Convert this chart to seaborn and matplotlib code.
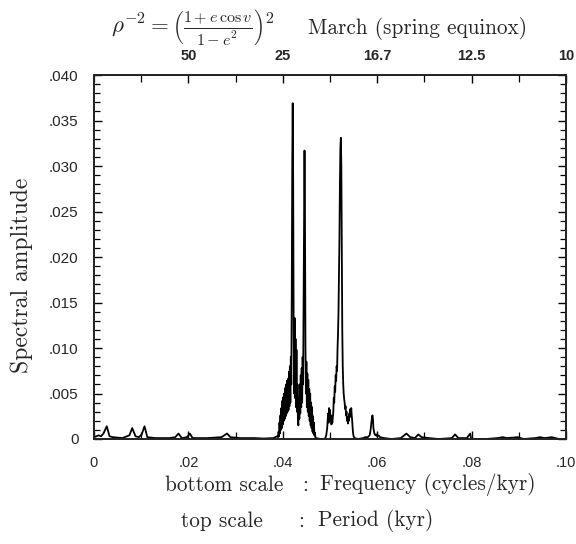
import matplotlib
matplotlib.use("Agg")
import matplotlib.pyplot as plt
import seaborn as sns
import pandas as pd
from matplotlib.ticker import MultipleLocator

# ---------------- data ----------------
freq = [
    # low-frequency background
    0.0000, 0.0010, 0.0015, 0.0020, 0.0027, 0.0033, 0.0040, 0.0060, 0.0075, 0.0081,
    0.0088, 0.0095, 0.0101, 0.0107, 0.0113, 0.0130, 0.0160, 0.0172, 0.0179, 0.0186,
    0.0197, 0.0203, 0.0209, 0.0240, 0.0270, 0.0282, 0.0289, 0.0310, 0.0340, 0.0360,
    0.0380, 0.0388,
    # first precession cluster
    0.0390, 0.0391, 0.0392, 0.0393, 0.0394, 0.0395, 0.0396, 0.0397, 0.0398, 0.0399,
    0.0400, 0.0401, 0.0402, 0.0403, 0.0404, 0.0405, 0.0406, 0.0407, 0.0408, 0.0409,
    0.0410, 0.0411, 0.0412, 0.0413, 0.0414, 0.0415, 0.0416, 0.0417, 0.0418, 0.0419,
    0.0420, 0.0421, 0.0422, 0.0423, 0.0424, 0.0425, 0.0426, 0.0427, 0.0428, 0.0429,
    0.0430, 0.0431, 0.0432, 0.0433, 0.0434, 0.0435, 0.0436, 0.0437, 0.0438, 0.0439,
    0.0440, 0.0441, 0.0442, 0.0443, 0.0444, 0.0445, 0.0446, 0.0447, 0.0448, 0.0449,
    0.0450, 0.0451, 0.0452, 0.0453, 0.0454, 0.0455, 0.0456, 0.0457, 0.0458, 0.0459,
    0.0460, 0.0461, 0.0462, 0.0463, 0.0464, 0.0465, 0.0466, 0.0467, 0.0468, 0.0469,
    0.0470, 0.0480, 0.0488,
    # second cluster
    0.0490, 0.0492, 0.0494, 0.0496, 0.0497, 0.0498, 0.0499, 0.0500, 0.0501, 0.0502,
    0.0503, 0.0504, 0.0505, 0.0506, 0.0507, 0.0508, 0.0509, 0.0510, 0.0511, 0.0512,
    0.0513, 0.0514, 0.0515, 0.0516, 0.0517, 0.0518, 0.0519, 0.0520, 0.0521, 0.0522,
    0.0523, 0.0524, 0.0525, 0.0526, 0.0527, 0.0528, 0.0529, 0.0530, 0.0531, 0.0532,
    0.0533, 0.0534, 0.0535, 0.0536, 0.0537, 0.0538, 0.0539, 0.0540, 0.0541, 0.0542,
    0.0543, 0.0544, 0.0545, 0.0546, 0.0547, 0.0548, 0.0549, 0.0550, 0.0552,
    # third small cluster and high-frequency background
    0.0560, 0.0570, 0.0575, 0.0580, 0.0584, 0.0586, 0.0588, 0.0589, 0.0590, 0.0591,
    0.0592, 0.0594, 0.0596, 0.0598, 0.0600, 0.0603, 0.0606, 0.0615, 0.0630, 0.0650,
    0.0662, 0.0670, 0.0680, 0.0687, 0.0694, 0.0710, 0.0730, 0.0758, 0.0765, 0.0772,
    0.0790, 0.0797, 0.0799, 0.0830, 0.0855, 0.0866, 0.0875, 0.0898, 0.0910, 0.0935,
    0.0945, 0.0955, 0.0970, 0.0985, 0.1000,
]
amplitude = [
    0.0002, 0.0004, 0.0003, 0.0006, 0.0014, 0.0003, 0.0002, 0.0001, 0.0004, 0.0012,
    0.0003, 0.0002, 0.0005, 0.0014, 0.0002, 0.0001, 0.0001, 0.0002, 0.0006, 0.0001,
    0.0002, 0.0006, 0.0001, 0.0001, 0.0002, 0.0006, 0.0002, 0.0001, 0.0001, 0.00005,
    0.0001, 0.0003,
    0.0002, 0.0008, 0.0003, 0.0018, 0.0006, 0.0026, 0.0010, 0.0034, 0.0012, 0.0042,
    0.0016, 0.0046, 0.0020, 0.0050, 0.0022, 0.0056, 0.0025, 0.0060, 0.0028, 0.0064,
    0.0030, 0.0066, 0.0032, 0.0074, 0.0036, 0.0080, 0.0040, 0.0090, 0.0060, 0.0160,
    0.0300, 0.0369, 0.0280, 0.0120, 0.0050, 0.0133, 0.0045, 0.0110, 0.0035, 0.0098,
    0.0030, 0.0060, 0.0020, 0.0015, 0.0045, 0.0022, 0.0060, 0.0028, 0.0070, 0.0035,
    0.0078, 0.0040, 0.0090, 0.0060, 0.0150, 0.0260, 0.0317, 0.0240, 0.0100, 0.0050,
    0.0085, 0.0035, 0.0072, 0.0030, 0.0065, 0.0025, 0.0055, 0.0020, 0.0050, 0.0015,
    0.0040, 0.0012, 0.0035, 0.0008, 0.0025, 0.0006, 0.0018, 0.0004, 0.0007, 0.0002,
    0.0001, 0.0000, 0.0000,
    0.0001, 0.0004, 0.0012, 0.0028, 0.0018, 0.0034, 0.0022, 0.0032, 0.0020, 0.0026,
    0.0016, 0.0022, 0.0018, 0.0024, 0.0030, 0.0045, 0.0040, 0.0058, 0.0052, 0.0070,
    0.0064, 0.0080, 0.0075, 0.0100, 0.0116, 0.0140, 0.0180, 0.0220, 0.0280, 0.0320,
    0.0331, 0.0300, 0.0200, 0.0120, 0.0080, 0.0060, 0.0050, 0.0044, 0.0040, 0.0033,
    0.0036, 0.0026, 0.0030, 0.0020, 0.0024, 0.0017, 0.0022, 0.0020, 0.0028, 0.0024,
    0.0033, 0.0028, 0.0034, 0.0026, 0.0020, 0.0012, 0.0006, 0.0003, 0.0001,
    0.0000, 0.0001, 0.0002, 0.0002, 0.0004, 0.0010, 0.0020, 0.0024, 0.0026, 0.0022,
    0.0012, 0.0006, 0.0004, 0.0005, 0.0003, 0.0004, 0.0002, 0.0001, 0.0000, 0.0001,
    0.0006, 0.0002, 0.0001, 0.0005, 0.0002, 0.0001, 0.0000, 0.0001, 0.0005, 0.0001,
    0.0001, 0.0006, 0.0000, 0.0000, 0.0001, 0.0002, 0.0001, 0.0002, 0.0000, 0.0001,
    0.0002, 0.0001, 0.0002, 0.0000, 0.0000,
]

ytick_values = [0, 0.005, 0.010, 0.015, 0.020, 0.025, 0.030, 0.035, 0.040]
ytick_labels = ["0", ".005", ".010", ".015", ".020", ".025", ".030", ".035", ".040"]
xtick_values = [0, 0.02, 0.04, 0.06, 0.08, 0.10]
xtick_labels = ["0", ".02", ".04", ".06", ".08", ".10"]
top_tick_freqs = [0.02, 0.04, 0.06, 0.08, 0.10]
top_tick_labels = ["50", "25", "16.7", "12.5", "10"]

df = pd.DataFrame({"freq": freq, "amp": amplitude})

# ---------------- figure ----------------
sns.set_theme(style="ticks")
plt.rcParams["font.family"] = ["Liberation Sans", "DejaVu Sans"]
plt.rcParams["mathtext.fontset"] = "cm"

fig = plt.figure(figsize=(5.76, 5.44), dpi=100)
ax = fig.add_axes([94 / 576, 1 - 439 / 544, (566 - 94) / 576, (439 - 75) / 544])

sns.lineplot(data=df, x="freq", y="amp", ax=ax, sort=False, estimator=None,
             color="black", linewidth=1.3)

ax.set_xlim(0, 0.10)
ax.set_ylim(0, 0.040)
ax.set_xlabel("")
ax.set_ylabel("")

for sp in ax.spines.values():
    sp.set_linewidth(1.2)
    sp.set_color("black")

ax.set_yticks(ytick_values)
ax.set_yticklabels(ytick_labels, fontsize=11)
ax.yaxis.set_minor_locator(MultipleLocator(0.001))
ax.set_xticks(xtick_values)
ax.set_xticklabels(xtick_labels, fontsize=10.5)
ax.xaxis.set_minor_locator(MultipleLocator(0.01))

ax.tick_params(axis="y", which="both", direction="in", left=True, right=True,
               color="black")
ax.tick_params(axis="y", which="major", length=6, width=1.0, pad=11)
ax.tick_params(axis="y", which="minor", length=4, width=0.9)
ax.tick_params(axis="x", which="both", direction="in", bottom=True, top=False,
               color="black")
ax.tick_params(axis="x", which="major", length=6, width=1.0, pad=12)
ax.tick_params(axis="x", which="minor", length=5, width=0.9)

top = ax.twiny()
top.set_xlim(ax.get_xlim())
top.set_xticks(top_tick_freqs)
top.set_xticklabels(top_tick_labels, fontsize=10.5, fontweight="bold")
top.xaxis.set_minor_locator(MultipleLocator(0.01))
top.tick_params(axis="x", which="both", direction="in", color="black")
top.tick_params(axis="x", which="major", length=6, width=1.0, pad=9)
top.tick_params(axis="x", which="minor", length=5, width=0.9)
for sp in top.spines.values():
    sp.set_linewidth(1.2)

serif = "cmr10"
fs = 15.3
fig.text(22 / 576, 1 - 275 / 544, "Spectral amplitude", rotation=90,
         ha="center", va="center", fontsize=17, family=serif)

fig.text(111 / 576, 1 - 27 / 544,
         r"$\rho^{-2} = \left(\frac{1+e\,\cos v}{1-e^2}\right)^2$",
         ha="left", va="center", fontsize=16.5)
fig.text(308 / 576, 1 - 34 / 544, "March (spring equinox)",
         ha="left", va="baseline", fontsize=fs, family=serif)

fig.text(283 / 576, 1 - 485 / 544, "bottom scale", ha="right", va="center",
         fontsize=fs, family=serif)
fig.text(305 / 576, 1 - 485 / 544, ":", ha="center", va="center",
         fontsize=fs, family=serif)
fig.text(320 / 576, 1 - 485 / 544, "Frequency (cycles/kyr)", ha="left",
         va="center", fontsize=fs, family=serif)

fig.text(263 / 576, 1 - 521 / 544, "top scale", ha="right", va="center",
         fontsize=fs, family=serif)
fig.text(301 / 576, 1 - 521 / 544, ":", ha="center", va="center",
         fontsize=fs, family=serif)
fig.text(318 / 576, 1 - 521 / 544, "Period (kyr)", ha="left", va="center",
         fontsize=fs, family=serif)

fig.savefig("out.png", dpi=100, facecolor="white")
